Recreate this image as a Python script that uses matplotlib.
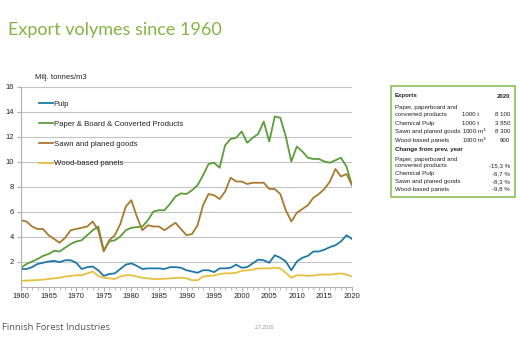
import matplotlib
matplotlib.use("Agg")
import matplotlib.pyplot as plt
from matplotlib.patches import Rectangle

# Export volumes 1960-2020, million tonnes / m3
years = list(range(1960, 2021))

pulp = [1.4, 1.4, 1.55, 1.8, 1.9, 2.0, 2.05, 1.95, 2.1, 2.1,
        1.9, 1.4, 1.55, 1.6, 1.3, 0.85, 1.0, 1.05, 1.4, 1.75,
        1.85, 1.65, 1.4, 1.45, 1.45, 1.45, 1.4, 1.55, 1.55, 1.5,
        1.3, 1.2, 1.1, 1.3, 1.3, 1.15, 1.45, 1.45, 1.5, 1.75,
        1.5, 1.55, 1.85, 2.15, 2.1, 1.9, 2.5, 2.3, 2.0, 1.3,
        2.0, 2.3, 2.45, 2.8, 2.8, 2.95, 3.15, 3.3, 3.6, 4.1,
        3.8]

paper = [1.5, 1.8, 2.0, 2.2, 2.45, 2.6, 2.85, 2.8, 3.1, 3.4,
         3.6, 3.7, 4.1, 4.5, 4.8, 2.9, 3.6, 3.7, 4.0, 4.5,
         4.7, 4.75, 4.8, 5.3, 6.0, 6.1, 6.1, 6.6, 7.2, 7.45,
         7.4, 7.7, 8.1, 8.9, 9.8, 9.9, 9.5, 11.3, 11.8, 11.9,
         12.4, 11.5, 11.9, 12.2, 13.2, 11.6, 13.6, 13.5, 12.0, 10.0,
         11.2, 10.8, 10.3, 10.2, 10.2, 10.0, 9.9, 10.1, 10.3, 9.6,
         8.1]

sawn = [5.3, 5.2, 4.8, 4.6, 4.6, 4.1, 3.8, 3.5, 3.9, 4.5,
        4.6, 4.7, 4.8, 5.2, 4.5, 2.8, 3.7, 4.1, 5.0, 6.4,
        6.9, 5.6, 4.5, 4.9, 4.8, 4.8, 4.5, 4.8, 5.1, 4.6,
        4.1, 4.2, 4.9, 6.5, 7.4, 7.3, 7.0, 7.6, 8.7, 8.4,
        8.4, 8.2, 8.3, 8.3, 8.3, 7.8, 7.8, 7.4, 6.1, 5.2,
        5.9, 6.2, 6.5, 7.1, 7.4, 7.8, 8.4, 9.4, 8.8, 9.0,
        8.1]

panels = [0.45, 0.47, 0.5, 0.52, 0.55, 0.6, 0.65, 0.7, 0.8, 0.85,
          0.9, 0.9, 1.05, 1.2, 0.85, 0.7, 0.65, 0.6, 0.8, 0.9,
          0.9, 0.8, 0.7, 0.65, 0.6, 0.6, 0.62, 0.65, 0.68, 0.7,
          0.65, 0.5, 0.5, 0.8, 0.85, 0.88, 1.0, 1.05, 1.05, 1.1,
          1.25, 1.3, 1.35, 1.45, 1.45, 1.45, 1.5, 1.45, 1.1, 0.7,
          0.9, 0.9, 0.85, 0.88, 0.95, 0.95, 0.95, 1.0, 1.05, 0.95,
          0.8]

series_names = ["Pulp", "Paper & Board & Converted Products",
                "Sawn and planed goods", "Wood-based panels"]
series_colors = ["#1f78a8", "#5a9e3a", "#a87a2c", "#e8c040"]

# side box text
box_rows = [
    ("Paper, paperboard and", "", ""),
    ("converted products", "1000 t", "8 100"),
    ("Chemical Pulp", "1000 t", "3 850"),
    ("Sawn and planed goods", "1000 m$^3$", "8 300"),
    ("Wood-based panels", "1000 m$^3$", "900"),
]
change_rows = [
    ("Paper, paperboard and", ""),
    ("converted products", "-15,3 %"),
    ("Chemical Pulp", "-6,7 %"),
    ("Sawn and planed goods", "-8,3 %"),
    ("Wood-based panels", "-9,8 %"),
]

W, H = 520, 340
fig = plt.figure(figsize=(W / 100, H / 100), dpi=100)
fig.patch.set_facecolor("white")

def fx(px):
    return px / W

def fy(py):
    return 1 - py / H

ax = fig.add_axes([fx(21), fy(286.5), fx(352) - fx(21), fy(86.5) - fy(286.5)])

for vals, name, col in zip([pulp, paper, sawn, panels], series_names, series_colors):
    ax.plot(years, vals, color=col, lw=1.3, label=name, solid_joinstyle="round")

ax.set_xlim(1960, 2020)
ax.set_ylim(0, 16)
ax.set_yticks(range(2, 17, 2))
ax.set_xticks(range(1960, 2021, 5))
ax.set_xticks(range(1960, 2021), minor=True)
ax.grid(axis="y", color="#c4c4c4", lw=0.8)
ax.set_axisbelow(True)
for s in ["top", "right"]:
    ax.spines[s].set_visible(False)
ax.spines["left"].set_color("#b0b0b0")
ax.spines["bottom"].set_color("#b0b0b0")
ax.tick_params(axis="y", labelsize=5.5, length=3, color="#b0b0b0", pad=2, labelcolor="#222222")
ax.tick_params(axis="x", which="major", labelsize=5.5, length=3, color="#b0b0b0", pad=2, labelcolor="#222222")
ax.tick_params(axis="x", which="minor", length=2, color="#b0b0b0")
for lab in ax.get_xticklabels() + ax.get_yticklabels():
    lab.set_family("Liberation Sans")

ax.text(fx(35), fy(79), "Milj. tonnes/m3", transform=fig.transFigure,
        fontsize=5.5, family="Liberation Sans", color="#222222")

leg = ax.legend(loc="upper left", bbox_to_anchor=(0.045, 0.945), frameon=False,
                prop={"family": "Liberation Sans", "size": 5.6},
                handlelength=1.8, handletextpad=0.1, labelspacing=1.58,
                borderaxespad=0)
for t in leg.get_texts():
    t.set_color("#222222")

# title and footer
fig.text(fx(8), fy(35), "Export volymes since 1960", fontsize=13,
         family="Lato", color="#84b442", va="baseline")
fig.text(fx(2), fy(330), "Finnish Forest Industries", fontsize=6.8,
         family="Open Sans", color="#555555", va="baseline")
fig.text(fx(255), fy(329), "2.7.2020", fontsize=3.5,
         family="Open Sans", color="#888888", va="baseline")

# side box
fig.add_artist(Rectangle((fx(391), fy(197)), fx(515) - fx(391), fy(86) - fy(197),
                         transform=fig.transFigure, fill=False,
                         edgecolor="#8cbf5a", lw=1.2))
fs = 4.4
kw = dict(fontsize=fs, family="Liberation Sans", color="#222222", va="center")
fig.text(fx(395), fy(95.5), "Exports", fontweight="bold", **kw)
fig.text(fx(510), fy(97), "2020", fontweight="bold", ha="right", **kw)
row_y = [108, 114.5, 123, 131.5, 140.5]
for yy, (lab, unit, val) in zip(row_y, box_rows):
    fig.text(fx(395), fy(yy), lab, **kw)
    if unit:
        fig.text(fx(462), fy(yy), unit, **kw)
    if val:
        fig.text(fx(510), fy(yy), val, ha="right", **kw)
fig.text(fx(395), fy(150), "Change from prev. year", fontweight="bold", **kw)
row_y2 = [159, 166, 174, 181.5, 189]
for yy, (lab, val) in zip(row_y2, change_rows):
    fig.text(fx(395), fy(yy), lab, **kw)
    if val:
        fig.text(fx(510), fy(yy), val, ha="right", **kw)

fig.savefig("out.png", dpi=100)
